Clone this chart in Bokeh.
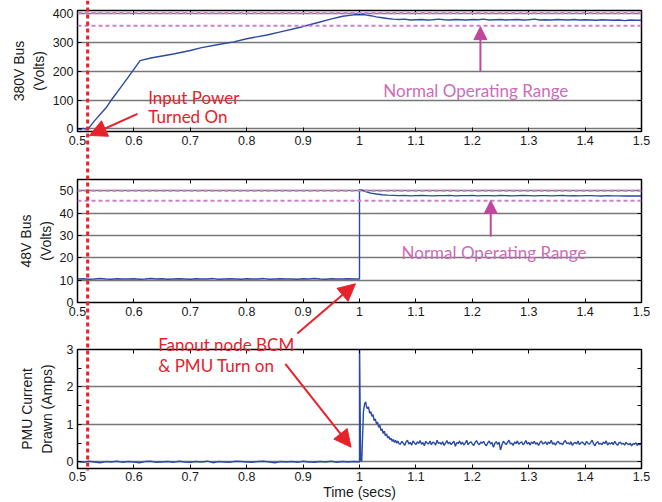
import numpy as np
from bokeh.plotting import figure
from bokeh.models import (Range1d, LinearAxis, FixedTicker, NumeralTickFormatter,
                          Label, Arrow, NormalHead, Span)
from bokeh.layouts import column
from bokeh.embed import file_html
from bokeh.resources import INLINE

# ---------------- data ----------------
x_ticks = [0.5, 0.6, 0.7, 0.8, 0.9, 1.0, 1.1, 1.2, 1.3, 1.4, 1.5]

# 380 V bus
bus380_t = [0.500, 0.505, 0.510, 0.515, 0.519, 0.530, 0.540, 0.551, 0.561, 0.575,
            0.590, 0.611, 0.630, 0.650, 0.670, 0.700, 0.720, 0.750, 0.777, 0.800,
            0.836, 0.860, 0.895, 0.920, 0.949, 0.970, 0.990, 1.000, 1.010, 1.020,
            1.030, 1.040, 1.050]
bus380_v = [1, -2, 2, -1, 0, 28, 50, 74, 103, 140,
            180, 237, 246, 253, 260, 272, 282, 293, 302, 313,
            326, 337, 353, 366, 381, 391, 396, 397, 396, 393,
            389, 386, 383]
bus380_steady = [381, 380, 381, 378, 379, 380, 378, 379, 381, 379,
                 378, 380, 379, 378, 380, 379, 381, 378, 379, 380,
                 378, 379, 380, 378, 379, 381, 378, 379, 378, 380,
                 379, 378, 380, 378, 379, 378, 377, 379, 378, 377,
                 378, 376, 378, 377, 377]
bus380_range = [358, 402]

# 48 V bus
bus48_pre = [10.5, 10.6, 10.4, 10.5, 10.7, 10.5, 10.4, 10.6, 10.5, 10.5,
             10.6, 10.4, 10.5, 10.7, 10.5, 10.6, 10.4, 10.5, 10.6, 10.5,
             10.4, 10.6, 10.5, 10.5, 10.7, 10.4, 10.5, 10.6, 10.5, 10.4,
             10.6, 10.5, 10.5, 10.7, 10.4, 10.5, 10.6, 10.5, 10.5, 10.4,
             10.6, 10.5, 10.7, 10.5, 10.4, 10.6, 10.5, 10.5, 10.6, 10.5]
bus48_step_t = [1.000, 1.000, 1.005, 1.010, 1.015, 1.020, 1.030, 1.040, 1.050]
bus48_step_v = [10.5, 50.5, 50.2, 49.7, 49.3, 48.9, 48.5, 48.2, 48.0]
bus48_steady = [47.9, 47.8, 47.9, 47.7, 47.8, 47.9, 47.8, 47.7, 47.8, 47.8,
                47.9, 47.7, 47.8, 47.8, 47.9, 47.7, 47.8, 47.8, 47.7, 47.9,
                47.8, 47.7, 47.8, 47.9, 47.8, 47.7, 47.8, 47.8, 47.7, 47.8,
                47.9, 47.7, 47.8, 47.7, 47.8, 47.8, 47.7, 47.6, 47.8, 47.7,
                47.7, 47.6, 47.7, 47.6, 47.6]
bus48_range = [45.5, 50.0]

# PMU current
pmu_pre = [0.01, -0.01, 0.02, 0.00, -0.02, 0.01, 0.00, 0.02, -0.01, 0.01,
           0.00, -0.02, 0.01, 0.02, -0.01, 0.00, 0.01, -0.01, 0.02, 0.00,
           -0.01, 0.01, 0.00, 0.02, -0.02, 0.01, 0.00, -0.01, 0.02, 0.01,
           0.00, -0.01, 0.01, 0.02, 0.00, -0.02, 0.01, 0.00, 0.01, -0.01,
           0.02, 0.00, -0.01, 0.01, 0.00, 0.02, -0.01, 0.01, 0.00, 0.01]
pmu_step_t = [1.000, 1.000, 1.002, 1.004, 1.007, 1.009, 1.011, 1.012, 1.014, 1.016,
              1.018, 1.020, 1.022, 1.024, 1.026, 1.028, 1.030, 1.032, 1.034, 1.036,
              1.038, 1.040, 1.042, 1.044, 1.046, 1.048, 1.050, 1.052, 1.054, 1.056,
              1.058, 1.060, 1.062, 1.064, 1.066, 1.068, 1.070]
pmu_step_v = [0.00, 3.30, 0.05, 0.02, 1.35, 1.55, 1.60, 1.50, 1.42, 1.47,
              1.30, 1.34, 1.22, 1.26, 1.10, 1.15, 1.02, 1.06, 0.92, 0.98,
              0.84, 0.88, 0.76, 0.82, 0.70, 0.75, 0.64, 0.68, 0.60, 0.63,
              0.55, 0.60, 0.52, 0.58, 0.50, 0.56, 0.49]
pmu_steady = [0.47, 0.55, 0.50, 0.44, 0.53, 0.58, 0.48, 0.52, 0.45, 0.56,
              0.51, 0.46, 0.54, 0.49, 0.57, 0.47, 0.52, 0.43, 0.55, 0.50,
              0.48, 0.56, 0.46, 0.53, 0.51, 0.45, 0.58, 0.49, 0.52, 0.47,
              0.54, 0.44, 0.50, 0.57, 0.48, 0.53, 0.46, 0.51, 0.55, 0.42,
              0.52, 0.49, 0.56, 0.47, 0.53, 0.45, 0.50, 0.58, 0.46, 0.51,
              0.54, 0.48, 0.44, 0.52, 0.57, 0.49, 0.46, 0.53, 0.50, 0.55,
              0.47, 0.43, 0.51, 0.56, 0.48, 0.52, 0.39, 0.50, 0.54, 0.47,
              0.53, 0.32, 0.45, 0.55, 0.51, 0.46, 0.52, 0.58, 0.48, 0.50,
              0.44, 0.53, 0.49, 0.56, 0.47, 0.51, 0.54, 0.46, 0.50, 0.57,
              0.48, 0.52, 0.45, 0.53, 0.49, 0.55, 0.47, 0.51, 0.44, 0.52,
              0.56, 0.48, 0.50, 0.54, 0.46, 0.53, 0.49, 0.58, 0.47, 0.51,
              0.45, 0.52, 0.55, 0.48, 0.50, 0.46, 0.53, 0.57, 0.49, 0.51,
              0.47, 0.54, 0.44, 0.50, 0.52, 0.48, 0.56, 0.46, 0.51, 0.53,
              0.49, 0.45, 0.55, 0.50, 0.47, 0.52, 0.58, 0.48, 0.43, 0.51,
              0.54, 0.47, 0.50, 0.46, 0.53, 0.49, 0.56, 0.45, 0.51, 0.48,
              0.52, 0.46, 0.55, 0.49, 0.44, 0.51, 0.53, 0.47, 0.50, 0.45,
              0.52, 0.48, 0.46, 0.50, 0.43, 0.49, 0.47, 0.51, 0.44, 0.48,
              0.46, 0.49]

# sample time bases of the uniformly sampled stretches
t_pre = np.linspace(0.50, 0.99, len(bus48_pre))
t_steady_v = np.linspace(1.06, 1.50, len(bus380_steady))
t_steady_i = np.linspace(1.0725, 1.50, len(pmu_steady))

TRIGGER_T = 0.518

# ---------------- style ----------------
BLUE = "#2b4aa3"
RED = "#e6222b"
MAG_TEXT = "#cc6cb8"
MAG_ARROW = "#c0479c"
MAG_DASH = "#cc7fcc"
GRID = "#777777"
TICK_FONT = "Liberation Sans"
NOTE_FONT = "Lato"
NOTE_SIZE = "17px"
W, H = 662, 502
BORDER_L, BORDER_R = 77, 21


def style_axis(ax, ticks, minor=None, show_labels=True):
    ax.ticker = FixedTicker(ticks=ticks, minor_ticks=minor or [])
    ax.major_tick_in = 4
    ax.major_tick_out = 0
    ax.minor_tick_in = 4 if minor else 0
    ax.minor_tick_out = 0
    ax.major_tick_line_color = "black"
    ax.minor_tick_line_color = "black" if minor else None
    ax.axis_line_color = None
    ax.major_label_text_font = TICK_FONT
    if show_labels:
        ax.major_label_text_color = "#1a1a1a"
        ax.major_label_text_font_size = "12.5px"
        ax.major_label_standoff = 4
    else:
        ax.major_label_text_color = None
        ax.major_label_text_font_size = "1px"
        ax.major_label_standoff = 0


def make_panel(height, top, bottom, y0, y1, yticks, yminor, ylabel, label_gap, xlabel=None):
    p = figure(width=W, height=height, x_range=Range1d(0.5, 1.5),
               y_range=Range1d(y0, y1), output_backend="svg", toolbar_location=None,
               min_border_left=BORDER_L, min_border_right=BORDER_R, min_border_top=top,
               min_border_bottom=bottom)
    p.outline_line_color = "black"
    p.outline_line_width = 1.5
    style_axis(p.xaxis[0], x_ticks)
    p.xaxis[0].formatter = NumeralTickFormatter(format="0.[0]")
    style_axis(p.yaxis[0], yticks, yminor)
    p.yaxis[0].axis_label = ylabel
    p.yaxis[0].axis_label_text_font = TICK_FONT
    p.yaxis[0].axis_label_text_font_size = "14px"
    p.yaxis[0].axis_label_text_font_style = "normal"
    p.yaxis[0].axis_label_text_color = "#1a1a1a"
    p.yaxis[0].axis_label_standoff = label_gap
    if xlabel:
        p.xaxis[0].axis_label = xlabel
        p.xaxis[0].axis_label_text_font = TICK_FONT
        p.xaxis[0].axis_label_text_font_size = "14px"
        p.xaxis[0].axis_label_text_font_style = "normal"
        p.xaxis[0].axis_label_text_color = "#1a1a1a"
        p.xaxis[0].axis_label_standoff = 0
        p.xaxis[0].major_label_standoff = 3
    top_ax = LinearAxis()
    style_axis(top_ax, x_ticks, show_labels=False)
    p.add_layout(top_ax, "above")
    right_ax = LinearAxis()
    style_axis(right_ax, yticks, yminor, show_labels=False)
    p.add_layout(right_ax, "right")
    p.xgrid.visible = False
    p.ygrid.ticker = FixedTicker(ticks=yticks)
    p.ygrid.grid_line_color = GRID
    p.ygrid.grid_line_width = 1.6
    return p


def note(p, x, y, text, color):
    p.add_layout(Label(x=x, y=y, text=text, text_font=NOTE_FONT, text_font_size=NOTE_SIZE,
                       text_color=color, text_baseline="alphabetic", text_align="left"))


def arrow(p, xs, ys, xe, ye, color, size):
    p.add_layout(Arrow(end=NormalHead(size=size, fill_color=color, line_color=color),
                       x_start=xs, y_start=ys, x_end=xe, y_end=ye,
                       line_color=color, line_width=2))


# ---------------- panel 1 : 380 V bus ----------------
p1 = make_panel(170, 10, 39, -9, 411, [0, 100, 200, 300, 400], None, "380V Bus\n(Volts)", 3)
for lv in bus380_range:
    p1.add_layout(Span(location=lv, dimension="width", line_color=MAG_DASH,
                       line_width=2, line_dash="4 3"))
p1.line(bus380_t + list(t_steady_v), bus380_v + bus380_steady, line_color=BLUE, line_width=1.4)
note(p1, 0.6254, 110, "Input Power", RED)
note(p1, 0.6254, 43, "Turned On", RED)
note(p1, 1.0423, 133, "Normal Operating Range", MAG_TEXT)
arrow(p1, 1.2144, 200, 1.2144, 355, MAG_ARROW, 13)

# ---------------- panel 2 : 48 V bus ----------------
p2 = make_panel(160, 9, 28, 0, 55, [0, 10, 20, 30, 40, 50], None, "48V Bus\n(Volts)", 3)
for lv in bus48_range:
    p2.add_layout(Span(location=lv, dimension="width", line_color=MAG_DASH,
                       line_width=2, line_dash="4 3"))
p2.line(list(t_pre) + bus48_step_t + list(t_steady_v), bus48_pre + bus48_step_v + bus48_steady,
        line_color=BLUE, line_width=1.4)
note(p2, 1.0746, 22.5, "Normal Operating Range", MAG_TEXT)
arrow(p2, 1.2327, 29.5, 1.2327, 45.6, MAG_ARROW, 13)

# ---------------- panel 3 : PMU current ----------------
p3 = make_panel(172, 19, 32, -0.175, 3, [0, 1, 2, 3], [0.5, 1.5, 2.5],
                "PMU Current\nDrawn (Amps)", 9, xlabel="Time (secs)")
p3.line(list(t_pre) + pmu_step_t + list(t_steady_i), pmu_pre + pmu_step_v + pmu_steady,
        line_color=BLUE, line_width=1.4)

# ---------------- transparent overlay for callouts that cross panels ----------------
# The column aligns this plot's frame with the panels' frames, so it shares their
# time axis; y is in page pixels (downwards).
ov = figure(width=W, height=H, output_backend="svg", toolbar_location=None,
            x_range=Range1d(0.5, 1.5), y_range=Range1d(H, 0), min_border=0,
            x_axis_location=None, y_axis_location=None)
ov.grid.visible = False
ov.outline_line_color = None
ov.background_fill_alpha = 0
ov.border_fill_alpha = 0
ov.styles = {"position": "absolute", "top": "0px", "left": "0px", "pointer-events": "none"}

ov.add_layout(Arrow(end=None, x_start=TRIGGER_T, y_start=0, x_end=TRIGGER_T, y_end=470,
                    line_color=RED, line_width=3, line_dash="4 3"))
arrow(ov, 0.6064, 113.3, 0.5213, 135, RED, 17)
note(ov, 0.6431, 344.3, "Fanout node BCM", RED)
note(ov, 0.6431, 365, "& PMU Turn on", RED)
arrow(ov, 0.8898, 333, 0.9928, 283.3, RED, 17)
arrow(ov, 0.8685, 363.3, 0.985, 446.7, RED, 17)

layout = column(p1, p2, p3, ov, spacing=0)
open("out.html", "w").write(file_html(layout, INLINE))
